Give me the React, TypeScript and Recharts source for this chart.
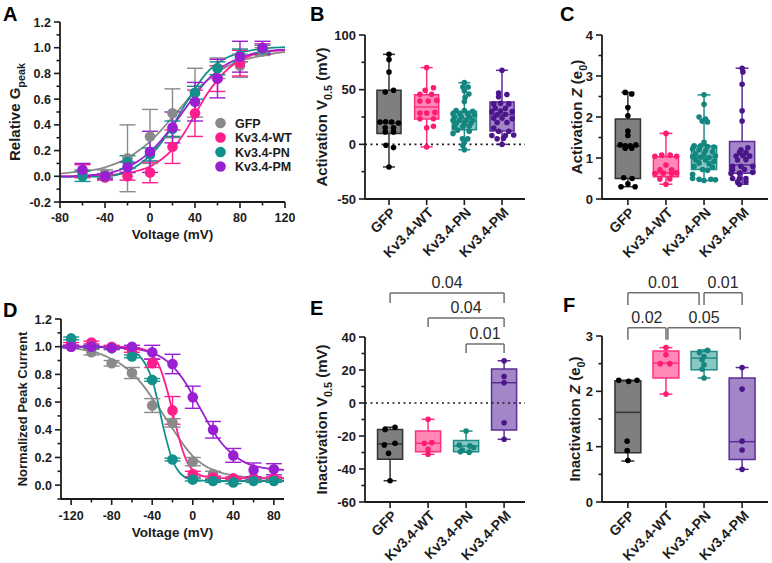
import React from 'react';
import {
  ComposedChart, Line, Scatter, XAxis, YAxis, ErrorBar,
  ReferenceArea, ReferenceLine, Label, Legend,
} from 'recharts';

const FONT = "'Liberation Sans', Arial, Helvetica, sans-serif";
const INK = '#1c1c1c';

// ---------------- shared categories ----------------
const groupNames = ['GFP', 'Kv3.4-WT', 'Kv3.4-PN', 'Kv3.4-PM'];
const lineColors = ['#8a8a8a', '#ff1f8c', '#12918c', '#9b1fd2'];
const boxFill = ['#7f7f7f', '#ff88b6', '#88c7c2', '#a286c8'];
const boxStroke = ['#333333', '#ff2f80', '#1f8d87', '#5b2d99'];
const pointColor = ['#000000', '#ff1a72', '#13867f', '#4a168a'];

// ---------------- Panel A: activation ----------------
const actVoltages = [-60, -40, -20, 0, 20, 40, 60, 80, 100];
const actGFP = [0.02, 0.02, 0.14, 0.31, 0.49, 0.65, 0.84, 0.86, 0.97];
const actGFPErr = [0.03, 0.03, 0.26, 0.21, 0.19, 0.19, 0.08, 0.09, 0.03];
const actWT = [0.04, -0.01, 0.0, 0.03, 0.23, 0.49, 0.76, 0.88, 0.99];
const actWTErr = [0.05, 0.02, 0.03, 0.08, 0.13, 0.18, 0.1, 0.1, 0.04];
const actPN = [0.0, 0.0, 0.11, 0.17, 0.37, 0.65, 0.84, 0.94, 0.99];
const actPNErr = [0.04, 0.02, 0.05, 0.05, 0.06, 0.05, 0.05, 0.05, 0.03];
const actPM = [0.05, 0.0, 0.07, 0.19, 0.38, 0.58, 0.76, 0.93, 1.0];
const actPMErr = [0.05, 0.02, 0.04, 0.16, 0.12, 0.15, 0.15, 0.12, 0.05];

const actFitGFP: [number, number][] = [[-80, 0.02], [-70, 0.03], [-60, 0.04], [-50, 0.05], [-40, 0.07], [-30, 0.1], [-20, 0.14], [-10, 0.2], [0, 0.27], [10, 0.36], [20, 0.46], [30, 0.56], [40, 0.66], [50, 0.74], [60, 0.81], [70, 0.86], [80, 0.9], [90, 0.92], [100, 0.94], [110, 0.955], [120, 0.965]];
const actFitWT: [number, number][] = [[-80, 0.0], [-60, 0.0], [-50, 0.005], [-40, 0.01], [-30, 0.015], [-20, 0.025], [-10, 0.045], [0, 0.075], [10, 0.13], [20, 0.21], [30, 0.33], [40, 0.48], [50, 0.63], [60, 0.75], [70, 0.84], [80, 0.9], [90, 0.94], [100, 0.96], [110, 0.975], [120, 0.98]];
const actFitPN: [number, number][] = [[-80, -0.005], [-60, -0.003], [-40, 0.0], [-30, 0.01], [-20, 0.04], [-10, 0.09], [0, 0.16], [10, 0.26], [20, 0.39], [30, 0.54], [40, 0.68], [50, 0.8], [60, 0.88], [70, 0.93], [80, 0.96], [90, 0.98], [100, 0.99], [110, 1.0], [120, 1.005]];
const actFitPM: [number, number][] = [[-80, 0.0], [-70, 0.0], [-60, 0.005], [-50, 0.01], [-40, 0.02], [-30, 0.04], [-20, 0.07], [-10, 0.12], [0, 0.19], [10, 0.28], [20, 0.39], [30, 0.51], [40, 0.63], [50, 0.74], [60, 0.82], [70, 0.88], [80, 0.92], [90, 0.95], [100, 0.97], [110, 0.98], [120, 0.985]];

const actXTicks = [-80, -60, -40, -20, 0, 20, 40, 60, 80, 100, 120];
const actYTicks = [-0.2, -0.1, 0, 0.1, 0.2, 0.3, 0.4, 0.5, 0.6, 0.7, 0.8, 0.9, 1.0, 1.1, 1.2];

// ---------------- Panel D: inactivation ----------------
const inVoltages = [-120, -100, -80, -60, -40, -20, 0, 20, 40, 60, 80];
const inGFP = [1.0, 0.96, 0.88, 0.81, 0.575, 0.45, 0.17, 0.08, 0.045, 0.04, 0.04];
const inGFPErr = [0.01, 0.02, 0.02, 0.04, 0.05, 0.03, 0.03, 0.02, 0.01, 0.01, 0.01];
const inWT = [1.02, 1.03, 1.0, 0.97, 0.88, 0.54, 0.08, 0.055, 0.05, 0.05, 0.05];
const inWTErr = [0.01, 0.01, 0.01, 0.01, 0.03, 0.1, 0.02, 0.01, 0.01, 0.01, 0.01];
const inPN = [1.06, 1.0, 0.99, 0.93, 0.76, 0.185, 0.04, 0.03, 0.02, 0.03, 0.03];
const inPNErr = [0.01, 0.01, 0.01, 0.01, 0.01, 0.01, 0.01, 0.01, 0.01, 0.01, 0.01];
const inPM = [1.0, 1.0, 0.99, 1.0, 0.96, 0.875, 0.635, 0.4, 0.215, 0.11, 0.115];
const inPMErr = [0.01, 0.01, 0.01, 0.01, 0.05, 0.07, 0.08, 0.06, 0.05, 0.05, 0.04];

const inFitGFP: [number, number][] = [[-130, 0.995], [-120, 0.99], [-110, 0.98], [-100, 0.965], [-90, 0.945], [-80, 0.91], [-70, 0.87], [-60, 0.81], [-50, 0.73], [-40, 0.63], [-30, 0.52], [-20, 0.41], [-10, 0.3], [0, 0.21], [10, 0.15], [20, 0.11], [30, 0.085], [40, 0.07], [50, 0.06], [60, 0.055], [70, 0.05], [80, 0.05], [90, 0.05]];
const inFitWT: [number, number][] = [[-130, 1.0], [-80, 1.0], [-60, 0.995], [-50, 0.985], [-45, 0.97], [-40, 0.94], [-35, 0.89], [-30, 0.8], [-25, 0.68], [-20, 0.53], [-15, 0.38], [-10, 0.25], [-5, 0.16], [0, 0.11], [5, 0.08], [10, 0.065], [20, 0.055], [40, 0.05], [90, 0.05]];
const inFitPN: [number, number][] = [[-130, 1.0], [-80, 0.995], [-70, 0.99], [-60, 0.97], [-55, 0.95], [-50, 0.91], [-45, 0.85], [-40, 0.76], [-35, 0.62], [-30, 0.45], [-25, 0.3], [-20, 0.18], [-15, 0.11], [-10, 0.07], [-5, 0.05], [0, 0.04], [10, 0.033], [20, 0.03], [90, 0.03]];
const inFitPM: [number, number][] = [[-130, 1.0], [-100, 1.0], [-80, 0.995], [-60, 0.985], [-50, 0.975], [-40, 0.955], [-30, 0.92], [-20, 0.86], [-10, 0.77], [0, 0.65], [10, 0.52], [20, 0.39], [30, 0.29], [40, 0.22], [50, 0.17], [60, 0.14], [70, 0.125], [80, 0.115], [90, 0.11]];

const inXTicks = [-120, -100, -80, -60, -40, -20, 0, 20, 40, 60, 80];
const inYTicks = [-0.1, 0, 0.1, 0.2, 0.3, 0.4, 0.5, 0.6, 0.7, 0.8, 0.9, 1.0, 1.1, 1.2];

// ---------------- Panel B: activation V0.5 ----------------
// [min, q1, median, q3, max]
const actV05Stats = [
  [-20.7, 9.8, 19.5, 49.4, 82.3],
  [-2.4, 23.2, 34.1, 45.4, 70.2],
  [-4.9, 13.4, 21.0, 30.2, 56.4],
  [0, 12.2, 27.2, 38.7, 67.7],
];
// [offset from category, value]
const actV05GFP = [[0, 82.3], [0, 77.5], [0, 66.2], [-0.1, 47.9], [0.12, 49.4], [-0.24, 20.4], [-0.09, 20.6], [0.07, 20.4], [0.25, 19.5], [-0.1, 15.2], [0.12, 15.2], [-0.1, 11.3], [0.12, 11.3], [-0.08, -0.9], [0.12, -3], [0, -20.7]];
const actV05WT = [[0, 70.2], [0.18, 51.8], [-0.04, 49.4], [-0.18, 45.7], [0.13, 45.7], [-0.18, 39.6], [0.04, 39.6], [0.27, 40.2], [-0.18, 28.6], [0, 28.6], [0.22, 29.2], [-0.18, 23.4], [0.18, 23.4], [0, 15.2], [0.18, 16.5], [0, -2.4]];
const actV05PN = [[0, 56.4], [-0.04, 52.5], [0.1, 52.5], [0, 48.9], [0.12, 46], [0.02, 43], [0, 39.1], [-0.22, 30.8], [0, 30.8], [0.22, 30.2], [-0.3, 28], [-0.12, 28], [0.09, 28], [0.27, 27], [-0.26, 25], [-0.08, 25], [0.13, 25], [-0.3, 22], [-0.13, 22], [0.04, 22], [0.22, 22], [-0.22, 19], [0, 19], [0.18, 19.5], [-0.26, 16], [-0.04, 16], [0.13, 16.5], [-0.18, 13], [0.13, 12], [-0.3, 10], [-0.05, 5], [0.09, 5], [0, 2], [-0.04, -1], [0, -4.9]];
const actV05PM = [[0, 67.7], [-0.09, 47], [0.13, 45.5], [-0.09, 43.5], [-0.22, 37], [-0.04, 37.5], [0.18, 37], [-0.18, 33], [0.09, 33], [-0.27, 30], [-0.04, 30.5], [0.27, 30], [-0.13, 27], [0.09, 27.5], [-0.22, 24], [0, 24], [0.27, 23.5], [-0.13, 20], [0.13, 20], [-0.22, 15], [-0.09, 12], [0.18, 12], [-0.27, 8], [0.09, 8], [0.31, 8.5], [-0.13, 5], [0.04, 5.5], [0, 0]];
const actV05Ticks = [-50, -25, 0, 25, 50, 75, 100];

// ---------------- Panel C: activation Z ----------------
const actZStats = [
  [0.3, 0.5, 1.29, 1.95, 2.6],
  [0.36, 0.54, 0.64, 1.03, 1.6],
  [0.45, 0.72, 1.02, 1.29, 2.54],
  [0.36, 0.63, 0.83, 1.4, 3.19],
];
const actZGFP = [[-0.07, 2.6], [0.1, 2.56], [0, 2.23], [0, 2.03], [0, 1.66], [0, 1.55], [-0.2, 1.32], [-0.07, 1.3], [0.06, 1.3], [0.21, 1.32], [-0.07, 1.24], [0.1, 1.24], [-0.11, 0.52], [0.11, 0.5], [0, 0.37], [-0.18, 0.3], [0.19, 0.3]];
const actZWT = [[0, 1.6], [-0.11, 1.07], [0.11, 1.07], [-0.29, 1.04], [0.28, 1.04], [0, 0.83], [-0.16, 0.71], [0.15, 0.71], [-0.29, 0.62], [-0.07, 0.63], [0.15, 0.62], [0.28, 0.64], [-0.16, 0.49], [0.1, 0.49], [0, 0.36]];
const actZPN = [[0, 2.54], [0, 2.31], [-0.13, 2.0], [0.04, 1.95], [-0.05, 1.9], [0.09, 1.88], [0, 1.38], [-0.26, 1.3], [-0.09, 1.3], [0.09, 1.28], [0.26, 1.27], [-0.3, 1.22], [-0.13, 1.2], [0.04, 1.18], [0.22, 1.15], [-0.22, 1.1], [0, 1.1], [0.3, 1.05], [-0.3, 1.03], [-0.09, 1.02], [0.13, 1.01], [-0.22, 0.95], [0.04, 0.95], [0.26, 0.92], [-0.13, 0.88], [0.13, 0.86], [-0.26, 0.8], [0.22, 0.78], [-0.04, 0.72], [0.09, 0.7], [-0.3, 0.6], [-0.3, 0.5], [-0.13, 0.48], [0.18, 0.48], [0.3, 0.47], [0, 0.45]];
const actZPM = [[0, 3.19], [0.02, 3.1], [0, 2.8], [0, 2.15], [0, 1.9], [0.15, 1.25], [-0.03, 1.2], [-0.07, 1.13], [0.1, 1.13], [-0.16, 1.05], [0.02, 1.06], [0.2, 1.05], [-0.12, 0.95], [0.1, 0.96], [-0.25, 0.8], [-0.03, 0.8], [0.28, 0.8], [-0.25, 0.72], [0.06, 0.72], [-0.29, 0.62], [-0.07, 0.63], [0.28, 0.65], [-0.25, 0.5], [-0.07, 0.5], [0.1, 0.5], [-0.12, 0.42], [0.1, 0.42], [-0.07, 0.36]];
const actZTicks = [0, 0.5, 1, 1.5, 2, 2.5, 3, 3.5, 4];

// ---------------- Panel E: inactivation V0.5 ----------------
const inV05Stats = [
  [-47.1, -34.1, -24.8, -16.0, -14.7],
  [-31.1, -29.5, -24.4, -17.0, -9.9],
  [-29.8, -29.5, -26.0, -22.8, -17.0],
  [-22.0, -16.4, 12.3, 20.6, 25.6],
];
const inV05GFP = [[-0.13, -16], [0.13, -14.7], [0.13, -24.4], [-0.15, -25.4], [-0.04, -30.5], [0, -47.1]];
const inV05WT = [[0, -9.9], [-0.1, -24.4], [0.1, -24.0], [0, -28], [0, -31.1]];
const inV05PN = [[0, -17], [-0.18, -25.5], [0.1, -26], [0.2, -27], [-0.1, -28.5], [-0.15, -29.5], [0.08, -29.8]];
const inV05PM = [[0, 25.6], [0, 16], [0, 12.3], [0, -12], [0, -22]];
const inV05Ticks = [-60, -50, -40, -30, -20, -10, 0, 10, 20, 30, 40];
const inV05Brackets = [
  { from: 0, to: 3, y: 66.7, drop: 60.6, text: '0.04' },
  { from: 1, to: 3, y: 51.5, drop: 46, text: '0.04' },
  { from: 2, to: 3, y: 35.8, drop: 30.3, text: '0.01' },
];

// ---------------- Panel F: inactivation Z ----------------
const inZStats = [
  [0.74, 0.89, 1.62, 2.19, 2.2],
  [1.95, 2.24, 2.51, 2.73, 2.79],
  [2.24, 2.39, 2.6, 2.72, 2.75],
  [0.59, 0.77, 1.09, 2.24, 2.43],
];
const inZGFP = [[-0.24, 2.2], [0.02, 2.18], [0.24, 2.2], [-0.02, 1.1], [-0.02, 0.93], [0, 0.75]];
const inZWT = [[0, 2.79], [0, 2.66], [-0.15, 2.5], [0.1, 2.5], [0, 1.95]];
const inZPN = [[-0.12, 2.7], [0.09, 2.74], [0, 2.63], [-0.05, 2.57], [0, 2.48], [-0.05, 2.4], [0, 2.24]];
const inZPM = [[0, 2.43], [0, 2.04], [0, 1.1], [0, 0.94], [0, 0.59]];
const inZTicks = [0, 0.5, 1, 1.5, 2, 2.5, 3];
const inZBrackets = [
  { from: 0, to: 1.87, y: 3.78, drop: 3.56, text: '0.01' },
  { from: 2, to: 3, y: 3.78, drop: 3.56, text: '0.01' },
  { from: 0, to: 1, y: 3.15, drop: 2.93, text: '0.02' },
  { from: 1.05, to: 2.95, y: 3.15, drop: 2.93, text: '0.05' },
];

// ---------------- helpers ----------------
type Part = { t: string; sub?: boolean; it?: boolean };

const axisLineStyle = { stroke: INK, strokeWidth: 1.8 };

const numYTick = (isMajor: (v: number) => boolean, fmt: (v: number) => string, fs: number) =>
  (props: any) => {
    const { x, y, payload } = props;
    const v = payload.value;
    const major = isMajor(v);
    return (
      <g>
        <line x1={x - (major ? 6 : 3.5)} x2={x} y1={y} y2={y} stroke={INK} strokeWidth={1.6} />
        {major && (
          <text x={x - 9} y={y} dy="0.36em" textAnchor="end" fontSize={fs} fontWeight="bold" fontFamily={FONT} fill={INK}>
            {fmt(v)}
          </text>
        )}
      </g>
    );
  };

const numXTick = (isMajor: (v: number) => boolean, fs: number, gap: number) =>
  (props: any) => {
    const { x, y, payload } = props;
    const v = payload.value;
    const major = isMajor(v);
    return (
      <g>
        <line x1={x} x2={x} y1={y} y2={y + (major ? 6 : 3.5)} stroke={INK} strokeWidth={1.6} />
        {major && (
          <text x={x} y={y + gap} textAnchor="middle" fontSize={fs} fontWeight="bold" fontFamily={FONT} fill={INK}>
            {v}
          </text>
        )}
      </g>
    );
  };

const catTick = (fs: number) => (props: any) => {
  const { x, y, payload } = props;
  const name = groupNames[Math.round(payload.value)];
  return (
    <g>
      <line x1={x} x2={x} y1={y} y2={y + 6} stroke={INK} strokeWidth={1.6} />
      <text transform={`translate(${x + 4},${y + 11}) rotate(-45)`} dy="0.36em" textAnchor="end" fontSize={fs} fontWeight="bold" fontFamily={FONT} fill={INK}>
        {name}
      </text>
    </g>
  );
};

const renderTitleParts = (parts: Part[], fs: number) => {
  const out: React.ReactNode[] = [];
  let inSub = false;
  parts.forEach((p, i) => {
    let dy = 0;
    if (p.sub && !inSub) dy = fs * 0.3;
    if (!p.sub && inSub) dy = -fs * 0.3;
    inSub = !!p.sub;
    out.push(
      <tspan key={i} dy={dy} fontSize={p.sub ? fs * 0.72 : fs} fontStyle={p.it ? 'italic' : 'normal'}>
        {p.t}
      </tspan>,
    );
  });
  return out;
};

const yTitle = (parts: Part[], cx: number, cy: number, fs: number) => () => (
  <text x={cx} y={cy + fs * 0.35} transform={`rotate(-90 ${cx} ${cy})`} textAnchor="middle" fontFamily={FONT} fontWeight="bold" fontSize={fs} fill={INK}>
    {renderTitleParts(parts, fs)}
  </text>
);

const xTitle = (text: string, cx: number, y: number, fs: number) => () => (
  <text x={cx} y={y} textAnchor="middle" fontFamily={FONT} fontWeight="bold" fontSize={fs} fill={INK}>
    {text}
  </text>
);

const dotShape = (color: string, r: number) => (props: any) => {
  if (props.cx == null || props.cy == null) return <g />;
  return <circle cx={props.cx} cy={props.cy} r={r} fill={color} />;
};

type Margin = { top: number; right: number; bottom: number; left: number };

// ---------------- curve panel (A, D) ----------------
type CurveCfg = {
  left: number; top: number; width: number; height: number; margin: Margin;
  yAxisW: number; xAxisH: number;
  xDomain: [number, number]; xTicks: number[]; xMajor: (v: number) => boolean;
  yDomain: [number, number]; yTicks: number[]; yMajor: (v: number) => boolean;
  volts: number[]; means: number[][]; errs: number[][]; fits: [number, number][][];
  yParts: Part[]; yTitleX: number; yTitleFs: number; xLabelGap: number; xTitleY: number;
  legend?: boolean;
};

function CurvePanel({ c }: { c: CurveCfg }) {
  const plotH = c.height - c.margin.top - c.margin.bottom - c.xAxisH;
  const plotW = c.width - c.margin.left - c.margin.right - c.yAxisW;
  const cy = c.margin.top + plotH / 2;
  const cx = c.margin.left + c.yAxisW + plotW / 2;
  const plotBottom = c.margin.top + plotH;
  return (
    <div style={{ position: 'absolute', left: c.left, top: c.top }}>
      <ComposedChart width={c.width} height={c.height} margin={c.margin}>
        <XAxis type="number" dataKey="x" domain={c.xDomain} ticks={c.xTicks} interval={0} allowDataOverflow
          tickSize={0} tickMargin={0} tickLine={false} axisLine={axisLineStyle} height={c.xAxisH}
          tick={numXTick(c.xMajor, 12.5, c.xLabelGap)}>
          <Label content={xTitle('Voltage (mV)', cx, plotBottom + c.xTitleY, 13.5)} />
        </XAxis>
        <YAxis type="number" domain={c.yDomain} ticks={c.yTicks} interval={0} allowDataOverflow
          tickSize={0} tickMargin={0} tickLine={false} axisLine={axisLineStyle} width={c.yAxisW}
          tick={numYTick(c.yMajor, (v) => v.toFixed(1), 12.5)}>
          <Label content={yTitle(c.yParts, c.yTitleX, cy, c.yTitleFs)} />
        </YAxis>
        {c.fits.map((f, i) => (
          <Line key={'fit' + i} data={f.map(([x, y]) => ({ x, y }))} dataKey="y" type="monotone"
            stroke={lineColors[i]} strokeWidth={1.8} dot={false} activeDot={false} isAnimationActive={false} />
        ))}
        {c.means.map((m, i) => (
          <Scatter key={'pts' + i} data={c.volts.map((v, j) => ({ x: v, y: m[j], e: c.errs[i][j] }))}
            dataKey="y" fill={lineColors[i]} shape={dotShape(lineColors[i], 5.3)} isAnimationActive={false}>
            <ErrorBar dataKey="e" direction="y" width={8} stroke={lineColors[i]} strokeWidth={1.4} />
          </Scatter>
        ))}
        {c.legend && (
          <Legend layout="vertical" align="center" verticalAlign="middle"
            wrapperStyle={{ left: 213, top: 115, width: 85, height: 62 }}
            content={() => (
              <svg width={85} height={62}>
                {groupNames.map((n, i) => (
                  <g key={n}>
                    <circle cx={7.5} cy={8 + i * 14.5} r={5.3} fill={lineColors[i]} />
                    <text x={22} y={8 + i * 14.5} dy="0.36em" fontSize={12.5} fontWeight="bold" fontFamily={FONT} fill={INK}>{n}</text>
                  </g>
                ))}
              </svg>
            )} />
        )}
      </ComposedChart>
    </div>
  );
}

// ---------------- box panel (B, C, E, F) ----------------
type Bracket = { from: number; to: number; y: number; drop: number; text: string };
type BoxCfg = {
  left: number; top: number; width: number; height: number; margin: Margin;
  yAxisW: number; xAxisH: number; xDomain: [number, number];
  yDomain: [number, number]; yTicks: number[]; yMajor: (v: number) => boolean; yFmt: (v: number) => string;
  stats: number[][]; points: number[][][]; boxHalf: number; capHalf: number;
  zeroLine?: boolean; brackets?: Bracket[];
  yParts: Part[]; yTitleX: number;
};

function BoxPanel({ c }: { c: BoxCfg }) {
  const plotH = c.height - c.margin.top - c.margin.bottom - c.xAxisH;
  const cy = c.margin.top + plotH / 2;
  const hw = c.boxHalf;
  const cap = c.capHalf;
  const boxes: React.ReactNode[] = [];
  c.stats.forEach(([mn, q1, md, q3, mx], i) => {
    const s = boxStroke[i];
    boxes.push(
      <ReferenceLine key={'wl' + i} segment={[{ x: i, y: mn }, { x: i, y: q1 }]} stroke={s} strokeWidth={1.5} ifOverflow="visible" />,
      <ReferenceLine key={'wh' + i} segment={[{ x: i, y: q3 }, { x: i, y: mx }]} stroke={s} strokeWidth={1.5} ifOverflow="visible" />,
      <ReferenceLine key={'cl' + i} segment={[{ x: i - cap, y: mn }, { x: i + cap, y: mn }]} stroke={s} strokeWidth={1.5} ifOverflow="visible" />,
      <ReferenceLine key={'ch' + i} segment={[{ x: i - cap, y: mx }, { x: i + cap, y: mx }]} stroke={s} strokeWidth={1.5} ifOverflow="visible" />,
      <ReferenceArea key={'bx' + i} x1={i - hw} x2={i + hw} y1={q1} y2={q3} fill={boxFill[i]} fillOpacity={1} stroke={s} strokeWidth={1.5} ifOverflow="visible" />,
      <ReferenceLine key={'md' + i} segment={[{ x: i - hw, y: md }, { x: i + hw, y: md }]} stroke={s} strokeWidth={1.5} ifOverflow="visible" />,
    );
  });
  const brackets: React.ReactNode[] = [];
  (c.brackets || []).forEach((b, k) => {
    brackets.push(
      <ReferenceLine key={'bh' + k} segment={[{ x: b.from, y: b.y }, { x: b.to, y: b.y }]} stroke="#6f6f6f" strokeWidth={1.5} ifOverflow="visible"
        label={{ value: b.text, position: 'top', offset: 5, fill: '#2a2a2a', fontSize: 16, fontFamily: FONT }} />,
      <ReferenceLine key={'bl' + k} segment={[{ x: b.from, y: b.y }, { x: b.from, y: b.drop }]} stroke="#6f6f6f" strokeWidth={1.5} ifOverflow="visible" />,
      <ReferenceLine key={'br' + k} segment={[{ x: b.to, y: b.y }, { x: b.to, y: b.drop }]} stroke="#6f6f6f" strokeWidth={1.5} ifOverflow="visible" />,
    );
  });
  return (
    <div style={{ position: 'absolute', left: c.left, top: c.top }}>
      <ComposedChart width={c.width} height={c.height} margin={c.margin}>
        <XAxis type="number" dataKey="x" domain={c.xDomain} ticks={[0, 1, 2, 3]} interval={0} allowDataOverflow
          tickSize={0} tickMargin={0} tickLine={false} axisLine={axisLineStyle} height={c.xAxisH}
          tick={catTick(14)} />
        <YAxis type="number" domain={c.yDomain} ticks={c.yTicks} interval={0} allowDataOverflow
          tickSize={0} tickMargin={0} tickLine={false} axisLine={axisLineStyle} width={c.yAxisW}
          tick={numYTick(c.yMajor, c.yFmt, 13)}>
          <Label content={yTitle(c.yParts, c.yTitleX, cy, 15)} />
        </YAxis>
        {boxes}
        {c.zeroLine && <ReferenceLine y={0} stroke={INK} strokeDasharray="2 3.5" strokeWidth={1.6} />}
        {c.points.map((pts, i) => (
          <Scatter key={'sc' + i} data={pts.map(([dx, y]) => ({ x: i + dx, y }))} dataKey="y"
            fill={pointColor[i]} shape={dotShape(pointColor[i], 2.8)} isAnimationActive={false} />
        ))}
        {brackets}
      </ComposedChart>
    </div>
  );
}

// ---------------- configs ----------------
const panelA: CurveCfg = {
  left: 0, top: 0, width: 295, height: 255, margin: { top: 22, right: 10, bottom: 0, left: 0 },
  yAxisW: 60, xAxisH: 53,
  xDomain: [-80, 120], xTicks: actXTicks, xMajor: (v) => v % 40 === 0,
  yDomain: [-0.2, 1.2], yTicks: actYTicks, yMajor: (v) => Math.round(v * 10) % 2 === 0,
  volts: actVoltages, means: [actGFP, actWT, actPN, actPM], errs: [actGFPErr, actWTErr, actPNErr, actPMErr],
  fits: [actFitGFP, actFitWT, actFitPN, actFitPM],
  yParts: [{ t: 'Relative G' }, { t: 'peak', sub: true }], yTitleX: 15, yTitleFs: 15,
  xLabelGap: 20, xTitleY: 37, legend: true,
};

const panelD: CurveCfg = {
  left: 0, top: 270, width: 290, height: 285, margin: { top: 49, right: 6, bottom: 0, left: 0 },
  yAxisW: 61, xAxisH: 56,
  xDomain: [-130, 90], xTicks: inXTicks, xMajor: (v) => v % 40 === 0,
  yDomain: [-0.1, 1.2], yTicks: inYTicks, yMajor: (v) => Math.round(v * 10) % 2 === 0,
  volts: inVoltages, means: [inGFP, inWT, inPN, inPM], errs: [inGFPErr, inWTErr, inPNErr, inPMErr],
  fits: [inFitGFP, inFitWT, inFitPN, inFitPM],
  yParts: [{ t: 'Normalized Peak Current' }], yTitleX: 22, yTitleFs: 13,
  xLabelGap: 21, xTitleY: 38,
};

const panelB: BoxCfg = {
  left: 290, top: 0, width: 237, height: 260, margin: { top: 35, right: 2, bottom: 0, left: 0 },
  yAxisW: 75, xAxisH: 61, xDomain: [-0.637, 3.61],
  yDomain: [-50, 100], yTicks: actV05Ticks, yMajor: (v) => v % 50 === 0, yFmt: (v) => String(v),
  stats: actV05Stats, points: [actV05GFP, actV05WT, actV05PN, actV05PM], boxHalf: 0.32, capHalf: 0.16,
  zeroLine: true,
  yParts: [{ t: 'Activation V' }, { t: '0.5', sub: true }, { t: ' (mV)' }], yTitleX: 32,
};

const panelC: BoxCfg = {
  left: 525, top: 0, width: 247, height: 260, margin: { top: 35, right: 4, bottom: 0, left: 0 },
  yAxisW: 77, xAxisH: 61, xDomain: [-0.68, 3.68],
  yDomain: [0, 4], yTicks: actZTicks, yMajor: (v) => Number.isInteger(v), yFmt: (v) => String(v),
  stats: actZStats, points: [actZGFP, actZWT, actZPN, actZPM], boxHalf: 0.33, capHalf: 0.17,
  yParts: [{ t: 'Activation ' }, { t: 'Z', it: true }, { t: ' (e' }, { t: '0', sub: true }, { t: ')' }], yTitleX: 52,
};

const panelE: BoxCfg = {
  left: 290, top: 270, width: 237, height: 293, margin: { top: 67, right: 2, bottom: 0, left: 0 },
  yAxisW: 75, xAxisH: 61, xDomain: [-0.66, 3.55],
  yDomain: [-60, 40], yTicks: inV05Ticks, yMajor: (v) => v % 20 === 0, yFmt: (v) => String(v),
  stats: inV05Stats, points: [inV05GFP, inV05WT, inV05PN, inV05PM], boxHalf: 0.33, capHalf: 0.17,
  zeroLine: true, brackets: inV05Brackets,
  yParts: [{ t: 'Inactivation V' }, { t: '0.5', sub: true }, { t: ' (mV)' }], yTitleX: 32,
};

const panelF: BoxCfg = {
  left: 525, top: 270, width: 247, height: 293, margin: { top: 66, right: 4, bottom: 0, left: 0 },
  yAxisW: 77, xAxisH: 61, xDomain: [-0.68, 3.68],
  yDomain: [0, 3], yTicks: inZTicks, yMajor: (v) => Number.isInteger(v), yFmt: (v) => String(v),
  stats: inZStats, points: [inZGFP, inZWT, inZPN, inZPM], boxHalf: 0.34, capHalf: 0.17,
  brackets: inZBrackets,
  yParts: [{ t: 'Inactivation ' }, { t: 'Z', it: true }, { t: ' (e' }, { t: '0', sub: true }, { t: ')' }], yTitleX: 50,
};

const panelLetters = [
  { t: 'A', x: 3, y: 21 }, { t: 'B', x: 310, y: 21 }, { t: 'C', x: 560, y: 21 },
  { t: 'D', x: 3, y: 317 }, { t: 'E', x: 310, y: 315 }, { t: 'F', x: 563, y: 312 },
];

export default function App() {
  return (
    <div style={{ position: 'absolute', left: 0, top: 0, width: 772, height: 563, background: '#ffffff', overflow: 'hidden', fontFamily: FONT }}>
      <CurvePanel c={panelA} />
      <CurvePanel c={panelD} />
      <BoxPanel c={panelB} />
      <BoxPanel c={panelC} />
      <BoxPanel c={panelE} />
      <BoxPanel c={panelF} />
      <svg width={772} height={563} style={{ position: 'absolute', left: 0, top: 0, pointerEvents: 'none' }}>
        {panelLetters.map((l) => (
          <text key={l.t} x={l.x} y={l.y} fontSize={20} fontWeight="bold" fontFamily={FONT} fill="#000">{l.t}</text>
        ))}
      </svg>
    </div>
  );
}
